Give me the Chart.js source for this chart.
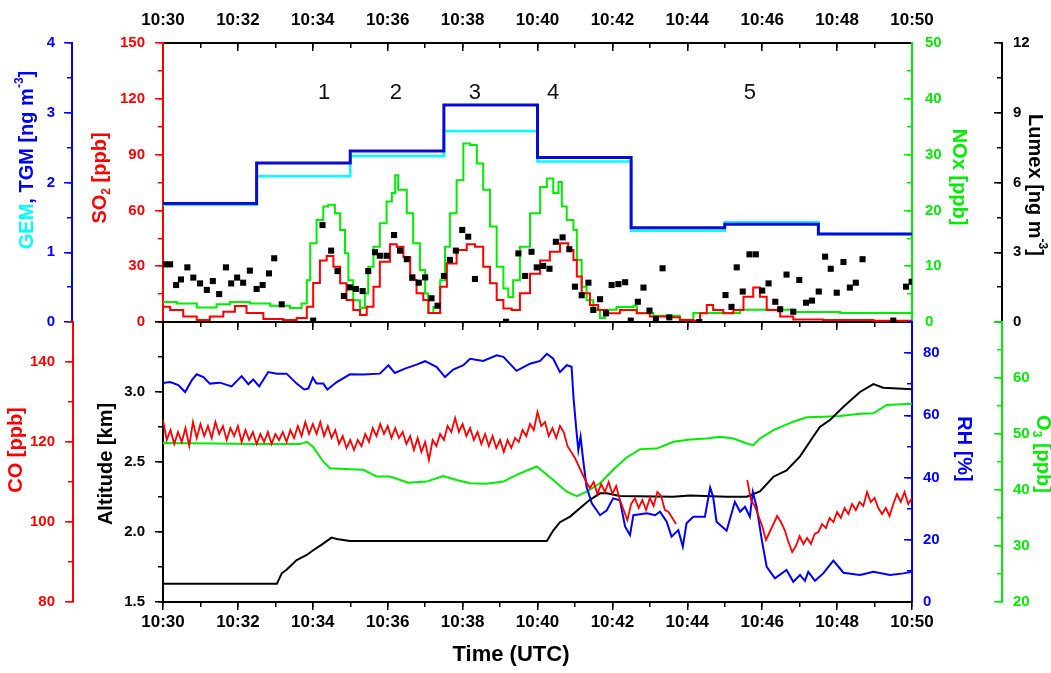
<!DOCTYPE html>
<html>
<head>
<meta charset="utf-8">
<script src="https://cdn.jsdelivr.net/npm/chart.js@4.4.1/dist/chart.umd.min.js"></script>
<style>
  html, body { margin: 0; padding: 0; background: #fff; }
  #wrap { position: relative; width: 1051px; height: 673px; }
  #wrap canvas { position: absolute; left: 0; top: 0; }
</style>
</head>
<body>
<div id="wrap">
  <canvas id="topPanel" width="1051" height="673"></canvas>
  <canvas id="bottomPanel" width="1051" height="673"></canvas>
</div>
<script>
// time is in minutes after 10:30 UTC
const timeLabel = v => '10:' + (30 + v);

// ---- top panel: mercury (step means), SO2, NOx, Lumex
const tgmT = [0, 2.5, 5, 7.5, 10, 12.5, 15, 17.5, 20];
const tgmV = [1.70, 2.28, 2.45, 3.11, 2.36, 1.35, 1.40, 1.26, 1.26];
const gemV = [1.68, 2.09, 2.38, 2.74, 2.30, 1.31, 1.43, 1.26, 1.26];

const so2T = [0, 0.19, 0.54, 0.9, 1.25, 1.61, 1.92, 2.23, 2.68, 3.21, 3.57, 3.84, 4.01, 4.19, 4.37, 4.55, 4.73, 4.9, 5.08, 5.26,
  5.44, 5.62, 5.79, 6.06, 6.24, 6.42, 6.6, 6.77, 6.95, 7.09, 7.22, 7.4, 7.58, 7.84, 8.11, 8.33, 8.55, 8.73, 8.91, 9.09,
  9.31, 9.53, 9.8, 10.07, 10.33, 10.6, 10.82, 10.96, 11.05, 11.18, 11.4, 11.62, 11.85, 12.2, 12.65, 13.0, 13.45, 13.8, 14.16, 14.34,
  14.52, 14.69, 14.96, 15.23, 15.5, 15.76, 15.94, 16.12, 16.48, 16.83, 17.63, 18.97, 20];
const so2V = [8.2, 6.5, 2.9, 1.1, 2.9, 5.5, 8.6, 4.8, 1.6, 1.1, 2.1, 8.2, 21, 33, 35.5, 29.7, 20.8, 11.8, 6.5, 3.8,
  8.2, 19, 32.4, 41.8, 40.5, 35, 22.6, 15.4, 11.8, 4.8, 4.8, 19, 31.5, 38.7, 41.8, 40.5, 29.7, 20.8, 11.8, 7.3,
  6.5, 15.4, 26, 33, 37.8, 42.3, 38.7, 33.3, 24.4, 15.4, 9.1, 6.5, 4.7, 6.5, 4.7, 2.9, 2.5, 1.1, 0.7, 4.7,
  9.1, 6.5, 4.7, 6.5, 13.6, 18.6, 13.6, 6.5, 2.9, 1.4, 1.1, 0.7, 0.5];

const noxT = [0, 0.37, 0.9, 1.43, 1.79, 2.32, 2.86, 3.39, 3.7, 3.84, 3.93, 4.1, 4.28, 4.41, 4.59, 4.73, 4.86, 4.95, 5.08, 5.26,
  5.39, 5.48, 5.62, 5.79, 5.97, 6.11, 6.2, 6.28, 6.51, 6.68, 6.86, 7.0, 7.08, 7.22, 7.4, 7.53, 7.66, 7.84, 8.02, 8.2,
  8.38, 8.55, 8.73, 8.91, 9.09, 9.22, 9.35, 9.53, 9.8, 10.07, 10.25, 10.42, 10.56, 10.65, 10.78, 10.96, 11.05, 11.18, 11.31, 11.49,
  11.67, 11.8, 12.11, 12.56, 12.65, 13.09, 13.8, 14.16, 14.69, 15.41, 16.12, 16.83, 18.08, 20];
const noxV = [3.6, 3.3, 2.6, 3.2, 3.6, 3.3, 2.9, 2.5, 3.3, 7.5, 14.1, 18.3, 20.7, 21, 19.5, 16.5, 12.3, 7.5, 3.9, 2.5,
  5.1, 9.9, 13.5, 17.7, 21.6, 23.1, 26.3, 23.7, 19.5, 14.1, 9.3, 5.1, 1.6, 2.7, 7.5, 13.5, 19.5, 25.4, 32.0, 31.7,
  28.4, 23.7, 17.1, 9.9, 6.0, 4.5, 7.5, 13.5, 19.5, 24.2, 25.7, 23.1, 25.1, 20.7, 18.3, 16.5, 11.1, 6.3, 3.9, 2.2,
  0.7, 2.2, 2.7, 2.9, 1.6, 1.1, 0.4, 1.6, 1.6, 2.2, 2.2, 1.8, 1.6, 1.1];

const lumT = [0.05, 0.19, 0.35, 0.48, 0.65, 0.81, 0.99, 1.17, 1.33, 1.5, 1.68, 1.82, 1.98, 2.14, 2.32, 2.5, 2.66, 2.83, 2.97, 3.17,
  4.01, 4.26, 4.49, 4.66, 4.83, 4.99, 5.15, 5.33, 5.48, 5.66, 5.79, 5.97, 6.17, 6.33, 6.51, 6.66, 6.83, 7.0, 7.17, 7.33,
  7.5, 7.66, 7.82, 7.99, 8.15, 8.33, 9.16, 9.49, 9.67, 9.84, 9.98, 10.15, 10.32, 10.49, 10.67, 10.85, 11.0, 11.18, 11.36, 11.49,
  11.67, 11.83, 11.98, 12.16, 12.34, 12.49, 12.68, 12.83, 12.99, 13.16, 13.34, 13.52, 14.32, 15.02, 15.18, 15.32, 15.48, 15.66, 15.83, 16.0,
  16.17, 16.35, 16.48, 16.65, 16.83, 16.99, 17.17, 17.33, 17.51, 17.68, 17.83, 17.99, 18.17, 18.34, 18.5, 18.68, 19.5, 19.84, 19.99];
const lumV = [2.48, 2.48, 1.59, 1.83, 2.35, 1.91, 1.66, 1.38, 1.76, 1.2, 2.35, 1.66, 1.91, 1.69, 2.21, 1.42, 1.59, 2.09, 2.74, 0.76,
  0.06, 4.17, 3.07, 2.19, 1.12, 1.49, 1.42, 1.33, 2.19, 3.0, 2.85, 2.85, 3.74, 3.07, 2.7, 1.92, 1.69, 1.92, 1.02, 0.7,
  1.98, 2.67, 3.07, 3.96, 3.67, 1.85, 0.01, 2.95, 1.98, 3.02, 2.35, 2.41, 2.29, 3.45, 3.64, 3.13, 1.52, 1.15, 1.69, 0.52,
  0.98, 0.37, 1.59, 1.63, 1.71, 0.06, 0.87, 1.48, 0.49, 0.12, 2.31, 0.2, 0.0, 1.16, 0.65, 2.35, 1.31, 2.91, 2.91, 1.35,
  1.66, 0.87, 0.55, 2.04, 0.44, 1.81, 0.83, 0.92, 1.31, 2.81, 2.29, 1.26, 2.58, 1.48, 1.69, 2.7, 0.06, 1.52, 1.73];

// plume numbers, placed on the SO2 scale
const peakNames = ['1', '2', '3', '4', '5'];
const peakT = [4.3, 6.22, 8.33, 10.42, 15.67];
const peakLevel = 123;

// ---- bottom panel: CO, altitude, RH, O3
const coStartA = 0, coStartB = 15.6, coStep = 0.1;
const coA = [125.5, 120.5, 123.0, 119.5, 122.5, 120.0, 123.5, 119.0, 125.0, 121.0,
  124.5, 121.5, 124.0, 121.0, 125.0, 122.0, 124.0, 120.5, 123.5, 121.5,
  124.0, 120.0, 123.0, 120.5, 122.5, 119.5, 122.0, 120.0, 122.5, 119.5,
  122.0, 120.5, 122.5, 120.0, 123.0, 121.0, 124.0, 121.5, 125.0, 122.0,
  124.5, 122.0, 125.0, 121.5, 124.0, 121.0, 123.0, 119.5, 121.5, 118.5,
  120.5, 118.0, 120.5, 119.0, 122.0, 120.0, 123.5, 121.5, 124.5, 122.0,
  124.0, 121.0, 123.5, 121.0, 122.5, 119.5, 121.5, 118.0, 121.0, 117.5,
  120.0, 115.5, 120.5, 119.0, 122.0, 120.5, 124.0, 122.5, 126.0, 122.5,
  124.5, 121.5, 123.5, 120.5, 122.5, 119.5, 122.0, 119.0, 121.5, 118.5,
  120.5, 117.5, 120.5, 118.5, 121.0, 120.0, 123.0, 121.5, 124.5, 123.0,
  127.5, 124.0, 125.0, 121.5, 123.5, 121.0, 124.0, 122.5, 119.0, 117.5,
  116.0, 114.0, 112.0, 110.0, 108.5, 110.0, 107.0, 109.5, 107.5, 110.0,
  107.0, 109.0, 105.5, 103.0, 100.5, 104.5, 106.0, 103.5, 105.5, 103.0,
  106.0, 104.0, 107.5, 106.5, 103.0, 102.5, 101.0, 99.5];
const coB = [110.5, 105.5, 104.0, 101.5, 99.0, 95.5, 97.5, 99.5, 101.5, 100.0,
  98.0, 95.0, 92.5, 94.0, 96.5, 94.5, 96.0, 94.5, 97.0, 97.5,
  99.5, 98.5, 101.0, 100.0, 102.5, 101.0, 103.5, 102.0, 104.5, 103.0,
  105.0, 104.0, 107.5, 105.0, 106.0, 103.5, 102.0, 103.5, 101.5, 104.5,
  107.0, 105.0, 107.5, 104.5, 106.0];

const altT = [0, 3.04, 3.17, 3.3, 3.57, 3.84, 4.01, 4.24, 4.5, 4.64, 4.99, 10.25, 10.42, 10.6, 10.87, 11.13, 11.4, 11.67, 11.85, 12.2,
  13.62, 14.07, 15.05, 15.59, 15.94, 16.3, 16.65, 17.01, 17.36, 17.54, 17.81, 18.17, 18.61, 18.97, 19.23, 20];
const altV = [1.63, 1.63, 1.705, 1.73, 1.80, 1.836, 1.87, 1.91, 1.96, 1.95, 1.935, 1.935, 2.01, 2.07, 2.11, 2.17, 2.23, 2.276, 2.276, 2.257,
  2.252, 2.26, 2.252, 2.252, 2.29, 2.395, 2.44, 2.54, 2.68, 2.75, 2.80, 2.895, 3.0, 3.057, 3.03, 3.02];

const rhT = [0, 0.19, 0.41, 0.59, 0.77, 0.9, 1.08, 1.25, 1.52, 1.83, 2.1, 2.28, 2.41, 2.57, 2.81, 3.04, 3.3, 3.57, 3.77, 3.88,
  4.0, 4.1, 4.28, 4.39, 4.64, 4.99, 5.35, 5.79, 6.02, 6.19, 6.46, 6.77, 7.0, 7.31, 7.53, 7.75, 8.02, 8.2, 8.55, 8.91,
  9.09, 9.44, 9.8, 10.07, 10.25, 10.42, 10.6, 10.78, 10.91, 10.96, 11.03, 11.09, 11.15, 11.22, 11.31, 11.45, 11.67, 11.85, 12.02, 12.2,
  12.34, 12.47, 12.56, 12.92, 13.14, 13.27, 13.45, 13.58, 13.76, 13.88, 13.98, 14.16, 14.47, 14.61, 14.69, 14.78, 15.05, 15.27, 15.41, 15.54,
  15.67, 15.75, 15.85, 15.99, 16.12, 16.34, 16.65, 16.83, 17.01, 17.14, 17.23, 17.41, 17.63, 17.9, 18.17, 18.61, 18.97, 19.41, 19.77, 20];
const rhV = [70.4, 70.7, 69.7, 67.5, 71.3, 73.2, 72.3, 70.2, 70.5, 69.3, 72.6, 70, 71.5, 69.3, 73.9, 73.4, 73.4, 70.2, 68.3, 68.6,
  72.1, 70.2, 70.2, 68.3, 70.7, 73.2, 73.1, 73.4, 76.1, 73.6, 75, 76.3, 77.4, 75.5, 72.3, 74.7, 76.1, 78.2, 77.5, 79.3,
  78.8, 74.3, 76.6, 77.5, 79.8, 78.2, 73.9, 76.1, 75.6, 65.9, 56.3, 48.8, 53.1, 45.6, 37, 31.7, 27.9, 29.5, 33.3, 32.7,
  24.2, 21.5, 27.9, 28.5, 27.9, 29, 25.8, 21, 23.1, 17.8, 25.3, 27.4, 27.4, 36.8, 33.8, 25.8, 22.9, 32.2, 29, 30.6,
  27.4, 35.4, 30.6, 19.9, 11.3, 7.6, 10.3, 6.5, 8.7, 6.8, 9.7, 6.8, 9.2, 13.3, 9.4, 8.7, 9.7, 8.7, 9.2, 9.7];

const o3T = [0, 1.43, 2.32, 3.66, 3.84, 4.01, 4.28, 4.46, 4.99, 5.35, 5.71, 6.06, 6.55, 7.04, 7.48, 7.84, 8.2, 8.64, 9.09, 9.44,
  9.98, 10.42, 10.78, 11.05, 11.31, 11.67, 12.02, 12.38, 12.74, 13.18, 13.63, 14.07, 14.52, 14.87, 15.23, 15.59, 15.76, 15.94, 16.3, 16.83,
  17.19, 17.63, 18.08, 18.61, 18.97, 19.32, 20];
const o3V = [48.4, 48.3, 48.2, 48.2, 48.6, 47.7, 45.05, 43.9, 43.7, 43.6, 42.4, 42.4, 41.3, 41.5, 42.5, 41.8, 41.2, 41.1, 41.5, 42.7,
  44.2, 41.8, 39.7, 38.9, 39.7, 41.2, 43.6, 45.8, 47.3, 47.4, 48.6, 49.0, 49.2, 49.5, 49.2, 48.3, 48.0, 49.2, 50.7, 52.2,
  53.0, 53.1, 53.2, 53.6, 53.7, 55.2, 55.4];

const FONT = '"Liberation Sans", Arial, Helvetica, sans-serif';
const BLUE = '#0000ff', TGM = '#0a0ad6', CYAN = '#00ffff', RED = '#ff0000', GREEN = '#00ee00', BLACK = '#000000';

const pts = (ts, vs) => ts.map((t, i) => ({ x: t, y: vs[i] }));
const series = (t0, vs) => vs.map((v, i) => ({ x: +(t0 + i * coStep).toFixed(2), y: v }));

// one axis; size is the fixed box width (or height) so both panels line up
function scale(pos, weight, size, min, max, step, color, o) {
  const horiz = pos === 'top' || pos === 'bottom';
  return {
    type: 'linear', position: pos, weight: weight, min: min, max: max,
    afterFit: s => { if (horiz) s.height = size; else s.width = size; },
    border: { display: !o.minor, color: color, width: 2 },
    grid: { drawOnChartArea: false, drawTicks: true, color: color, lineWidth: 1.5, tickLength: o.tl },
    ticks: {
      display: !!o.fmt, stepSize: step, autoSkip: false, includeBounds: false, maxRotation: 0,
      color: color, padding: o.pad || 0,
      font: { family: FONT, size: o.fs || 15, weight: 'bold' },
      callback: o.fmt || (() => '')
    }
  };
}

// axis title made of coloured pieces, with sub/superscripts
function rich(ctx, parts, cx, cy, rot, size) {
  const big = 'bold ' + size + 'px ' + FONT;
  const small = 'bold ' + Math.round(size * 0.62) + 'px ' + FONT;
  ctx.save();
  ctx.translate(cx, cy);
  ctx.rotate(rot);
  ctx.textBaseline = 'middle';
  ctx.textAlign = 'left';
  let w = 0;
  const widths = parts.map(p => {
    ctx.font = (p.sub || p.sup) ? small : big;
    const pw = ctx.measureText(p.t).width;
    w += pw;
    return pw;
  });
  let x = -w / 2;
  parts.forEach((p, i) => {
    ctx.font = (p.sub || p.sup) ? small : big;
    ctx.fillStyle = p.c;
    const dy = p.sub ? size * 0.32 : p.sup ? -size * 0.38 : 0;
    ctx.fillText(p.t, x, dy);
    x += widths[i];
  });
  ctx.restore();
}

const UP = -Math.PI / 2, DOWN = Math.PI / 2;

const topText = {
  id: 'topText',
  afterDraw(chart) {
    const ctx = chart.ctx;
    const xs = chart.scales.xBot, ys = chart.scales.ySO2;
    ctx.save();
    ctx.font = '22px ' + FONT;
    ctx.fillStyle = '#111';
    ctx.textAlign = 'center';
    ctx.textBaseline = 'middle';
    peakNames.forEach((n, i) => ctx.fillText(n, xs.getPixelForValue(peakT[i]), ys.getPixelForValue(peakLevel)));
    ctx.restore();
    rich(ctx, [{ t: 'GEM', c: CYAN }, { t: ', TGM [ng m', c: BLUE }, { t: '-3', c: BLUE, sup: true }, { t: ']', c: BLUE }], 27, 160, UP, 20);
    rich(ctx, [{ t: 'SO', c: RED }, { t: '2', c: RED, sub: true }, { t: ' [ppb]', c: RED }], 100, 178, UP, 20);
    rich(ctx, [{ t: 'NOx [ppb]', c: GREEN }], 959, 177, DOWN, 20);
    rich(ctx, [{ t: 'Lumex [ng m', c: BLACK }, { t: '-3', c: BLACK, sup: true }, { t: ']', c: BLACK }], 1035, 185, DOWN, 20);
  }
};

const bottomText = {
  id: 'bottomText',
  afterDraw(chart) {
    const ctx = chart.ctx;
    rich(ctx, [{ t: 'CO [ppb]', c: RED }], 16, 450, UP, 20);
    rich(ctx, [{ t: 'Altitude [km]', c: BLACK }], 106, 464, UP, 20);
    rich(ctx, [{ t: 'RH [%]', c: BLUE }], 964, 449, DOWN, 20);
    rich(ctx, [{ t: 'O', c: GREEN }, { t: '3', c: GREEN, sub: true }, { t: ' [ppb]', c: GREEN }], 1043, 454, DOWN, 20);
    rich(ctx, [{ t: 'Time (UTC)', c: BLACK }], 511, 655, 0, 22);
  }
};

const base = {
  responsive: false, animation: false, devicePixelRatio: 1, events: [],
  plugins: { legend: { display: false }, tooltip: { enabled: false } },
  elements: { point: { radius: 0 }, line: { tension: 0 } }
};

// stepped 'before': each value holds until the next sample time
new Chart(document.getElementById('topPanel'), {
  type: 'line',
  data: {
    datasets: [
      { data: pts(lumT, lumV), xAxisID: 'xBot', yAxisID: 'yLumex', showLine: false, order: 0,
        pointStyle: 'rect', pointRadius: 4.3, pointBackgroundColor: BLACK, pointBorderWidth: 0 },
      { data: pts(tgmT, tgmV), xAxisID: 'xBot', yAxisID: 'yGem', stepped: 'before', borderColor: TGM, borderWidth: 3, order: 1 },
      { data: pts(tgmT, gemV), xAxisID: 'xBot', yAxisID: 'yGem', stepped: 'before', borderColor: CYAN, borderWidth: 2.5, order: 2 },
      { data: pts(so2T, so2V), xAxisID: 'xBot', yAxisID: 'ySO2', stepped: 'before', borderColor: RED, borderWidth: 2, order: 3 },
      { data: pts(noxT, noxV), xAxisID: 'xBot', yAxisID: 'yNOx', stepped: 'before', borderColor: GREEN, borderWidth: 2, order: 4 }
    ]
  },
  options: Object.assign({}, base, {
    scales: {
      xTop: scale('top', 1, 43, 0, 20, 2, BLACK, { tl: -8, pad: 20, fs: 17, fmt: timeLabel }),
      xTopMinor: scale('top', 0, 0, 0, 20, 1, BLACK, { tl: -5, minor: true }),
      xBot: scale('bottom', 1, 351, 0, 20, 2, BLACK, { tl: 8 }),
      xBotMinor: scale('bottom', 0, 0, 0, 20, 1, BLACK, { tl: 5, minor: true }),
      yGem: scale('left', 3, 72, 0, 4, 1, BLUE, { tl: 8, pad: 9, fmt: v => v }),
      yGemMinor: scale('left', 2, 0, 0, 4, 0.5, BLUE, { tl: 5, minor: true }),
      ySO2: scale('left', 1, 91, 0, 150, 30, RED, { tl: 8, pad: 10, fmt: v => v }),
      ySO2Minor: scale('left', 0, 0, 0, 150, 15, RED, { tl: 5, minor: true }),
      yNOxMinor: scale('right', 0, 0, 0, 50, 5, GREEN, { tl: -5, minor: true }),
      yNOx: scale('right', 1, 90, 0, 50, 10, GREEN, { tl: -8, pad: 21, fmt: v => v }),
      yLumexMinor: scale('right', 2, 0, 0, 12, 1.5, BLACK, { tl: -5, minor: true }),
      yLumex: scale('right', 3, 49, 0, 12, 3, BLACK, { tl: -8, pad: 19, fmt: v => v })
    }
  }),
  plugins: [topText]
});

new Chart(document.getElementById('bottomPanel'), {
  type: 'line',
  data: {
    datasets: [
      { data: pts(rhT, rhV), xAxisID: 'x', yAxisID: 'yRH', borderColor: BLUE, borderWidth: 2, order: 2 },
      { data: series(coStartA, coA), xAxisID: 'x', yAxisID: 'yCO', borderColor: RED, borderWidth: 1.8, order: 1 },
      { data: series(coStartB, coB), xAxisID: 'x', yAxisID: 'yCO', borderColor: RED, borderWidth: 1.8, order: 1 },
      { data: pts(altT, altV), xAxisID: 'x', yAxisID: 'yAlt', borderColor: BLACK, borderWidth: 2, order: 3 },
      { data: pts(o3T, o3V), xAxisID: 'x', yAxisID: 'yO3', borderColor: GREEN, borderWidth: 2, order: 4 }
    ]
  },
  options: Object.assign({}, base, {
    layout: { padding: { top: 322 } },
    scales: {
      x: scale('bottom', 1, 71, 0, 20, 2, BLACK, { tl: 8, pad: 2, fs: 17, fmt: timeLabel }),
      xMinor: scale('bottom', 0, 0, 0, 20, 1, BLACK, { tl: 5, minor: true }),
      yCO: scale('left', 3, 73, 80, 150, 20, RED, { tl: 8, pad: 10, fmt: v => v }),
      yCOMinor: scale('left', 2, 0, 80, 150, 10, RED, { tl: 5, minor: true }),
      yAlt: scale('left', 1, 90, 1.5, 3.5, 0.5, BLACK, { tl: 8, pad: 10, fmt: v => v > 3.4 ? '' : v.toFixed(1) }),
      yAltMinor: scale('left', 0, 0, 1.5, 3.5, 0.25, BLACK, { tl: 5, minor: true }),
      yRHMinor: scale('right', 0, 0, 0, 90, 10, BLUE, { tl: -5, minor: true }),
      yRH: scale('right', 1, 90, 0, 90, 20, BLUE, { tl: -8, pad: 19, fmt: v => v }),
      yO3Minor: scale('right', 2, 0, 20, 70, 5, GREEN, { tl: -5, minor: true }),
      yO3: scale('right', 3, 49, 20, 70, 10, GREEN, { tl: -8, pad: 19, fmt: v => v > 65 ? '' : v })
    }
  }),
  plugins: [bottomText]
});
</script>
</body>
</html>
